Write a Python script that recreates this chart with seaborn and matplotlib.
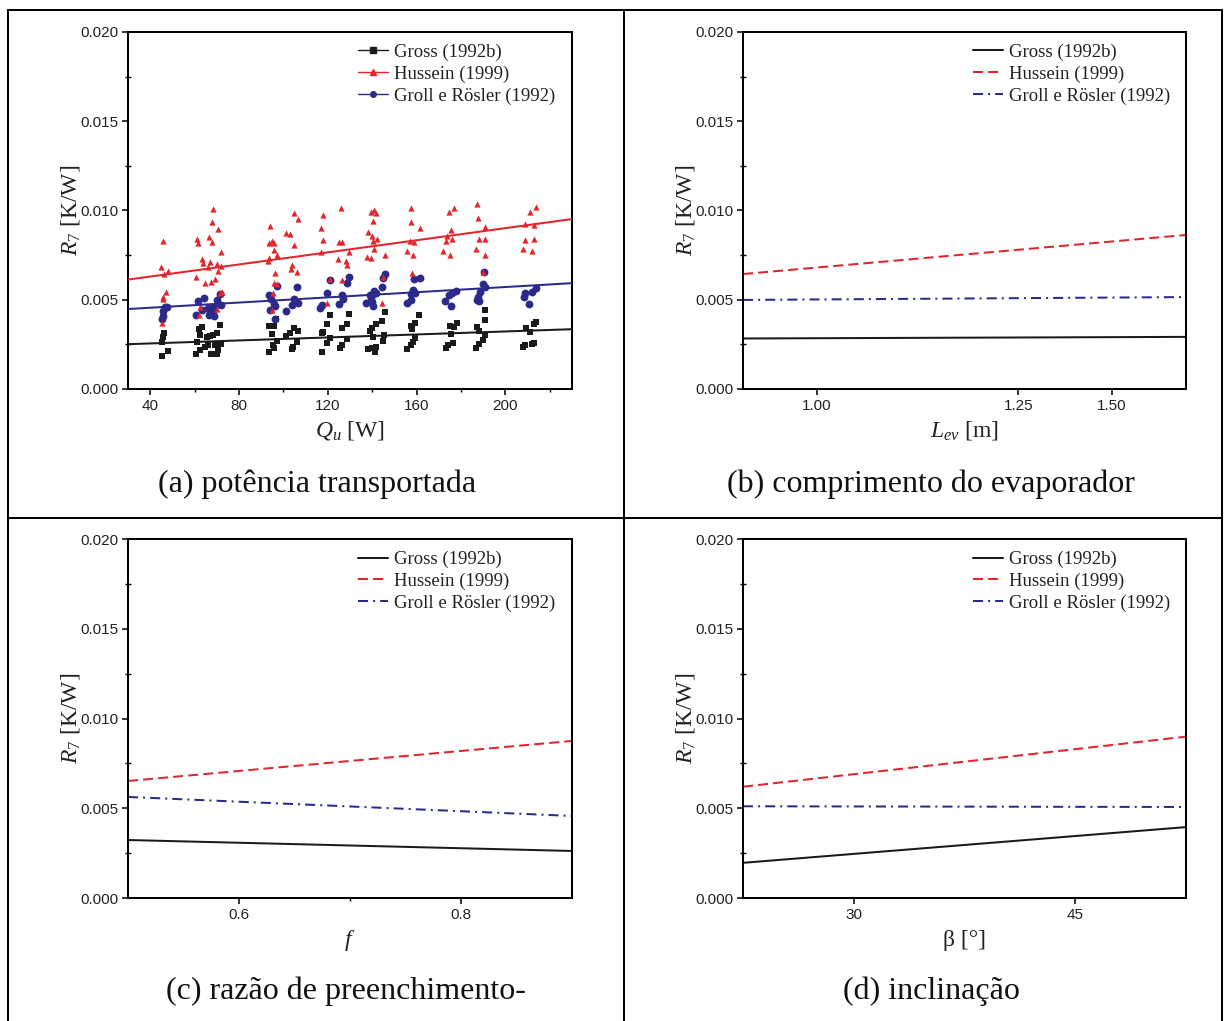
import numpy as np
import pandas as pd
import matplotlib
matplotlib.use("Agg")
import matplotlib.pyplot as plt
from matplotlib.lines import Line2D
from matplotlib.ticker import MultipleLocator, FixedLocator, FixedFormatter
import seaborn as sns

# ---------------------------------------------------------------- data
series_names = ["Gross (1992b)", "Hussein (1999)", "Groll e Rösler (1992)"]
series_colors = ["#1a1a1a", "#e3242b", "#2b2a8a"]

# (a) measured/predicted points vs transported power Q_u [W]
gross_q = [46.4, 45.9, 45.5, 47.9, 45.5, 61.8, 63.5, 62.4, 61.2, 65.7, 66.9, 68.3, 70.0, 71.4,
           66.2, 69.2, 71.9, 62.4, 60.6, 67.2, 70.4, 70.2, 64.7, 93.7, 95.8, 94.7, 95.2, 95.8,
           93.7, 97.0, 96.5, 101.2, 103.0, 104.8, 106.7, 106.3, 103.9, 104.5, 121.0, 119.5,
           117.2, 118.0, 121.0, 119.5, 117.2, 126.2, 128.5, 128.5, 126.4, 125.5, 129.4, 145.9,
           144.4, 141.5, 139.9, 139.0, 140.2, 145.5, 144.8, 141.5, 139.9, 138.1, 141.1, 161.3,
           159.3, 157.6, 157.8, 159.1, 158.5, 157.6, 155.5, 178.0, 176.7, 174.9, 175.5, 176.4,
           174.3, 173.1, 191.0, 191.0, 187.4, 188.3, 191.0, 189.8, 188.3, 186.6, 213.9, 212.8,
           209.1, 210.9, 212.8, 211.8, 208.8, 208.1]
gross_r = [0.00312, 0.00293, 0.00261, 0.00215, 0.00185, 0.00338, 0.00349, 0.00303, 0.00265,
           0.00293, 0.00297, 0.00303, 0.00312, 0.00357, 0.00246, 0.00246, 0.00250, 0.00218,
           0.00194, 0.00196, 0.00218, 0.00196, 0.00237, 0.00353, 0.00353, 0.00308, 0.00245,
           0.00228, 0.00209, 0.00267, 0.00390, 0.00297, 0.00312, 0.00340, 0.00325, 0.00265,
           0.00222, 0.00237, 0.00415, 0.00363, 0.00316, 0.00321, 0.00284, 0.00256, 0.00209,
           0.00340, 0.00362, 0.00278, 0.00246, 0.00228, 0.00420, 0.00429, 0.00383, 0.00364,
           0.00342, 0.00323, 0.00293, 0.00303, 0.00269, 0.00233, 0.00229, 0.00222, 0.00209,
           0.00415, 0.00368, 0.00353, 0.00336, 0.00284, 0.00265, 0.00246, 0.00222, 0.00372,
           0.00349, 0.00353, 0.00308, 0.00256, 0.00246, 0.00228, 0.00443, 0.00385, 0.00345,
           0.00325, 0.00303, 0.00275, 0.00250, 0.00228, 0.00377, 0.00362, 0.00340, 0.00317,
           0.00260, 0.00254, 0.00245, 0.00237]

hussein_q = [45.9, 45.0, 47.9, 46.4, 47.1, 45.8, 45.9, 45.3, 61.2, 61.7, 68.1, 67.8, 70.4, 66.6,
             67.7, 71.9, 63.5, 63.9, 67.1, 65.9, 69.9, 71.7, 70.4, 60.6, 64.7, 67.2, 69.0, 71.4,
             72.2, 70.2, 62.4, 62.0, 94.0, 93.4, 94.7, 95.6, 95.9, 97.0, 93.4, 93.2, 96.4, 95.6,
             97.0, 95.2, 95.0, 104.9, 106.7, 101.2, 103.1, 104.8, 103.7, 103.6, 106.3, 117.7,
             116.9, 118.0, 116.8, 125.8, 125.2, 126.5, 128.2, 128.5, 124.6, 121.2, 126.2, 119.5,
             129.7, 139.5, 140.7, 141.5, 140.4, 138.0, 140.1, 142.0, 140.2, 140.7, 137.5, 139.3,
             145.7, 145.0, 144.3, 157.3, 157.5, 161.4, 157.0, 158.8, 155.5, 158.6, 158.1, 174.6,
             177.0, 175.7, 173.5, 173.2, 175.8, 172.1, 175.2, 187.4, 187.8, 191.0, 188.3, 190.8,
             186.7, 190.8, 190.1, 210.9, 213.6, 208.8, 212.7, 208.9, 212.8, 207.9, 211.8]
hussein_r = [0.00829, 0.00683, 0.00661, 0.00642, 0.00542, 0.00514, 0.00502, 0.00372, 0.00838,
             0.00816, 0.01007, 0.00934, 0.00894, 0.00853, 0.00825, 0.00768, 0.00728, 0.00708,
             0.00711, 0.00685, 0.00702, 0.00689, 0.00663, 0.00626, 0.00596, 0.00598, 0.00614,
             0.00536, 0.00542, 0.00446, 0.00461, 0.00415, 0.00913, 0.00820, 0.00829, 0.00816,
             0.00777, 0.00751, 0.00732, 0.00719, 0.00648, 0.00596, 0.00588, 0.00536, 0.00443,
             0.00984, 0.00951, 0.00872, 0.00866, 0.00809, 0.00695, 0.00674, 0.00657, 0.00975,
             0.00900, 0.00835, 0.00768, 0.01012, 0.00825, 0.00824, 0.00717, 0.00695, 0.00730,
             0.00614, 0.00611, 0.00480, 0.00766, 0.00993, 0.01002, 0.00988, 0.00941, 0.00878,
             0.00857, 0.00842, 0.00831, 0.00782, 0.00741, 0.00734, 0.00753, 0.00629, 0.00480,
             0.01016, 0.00934, 0.00900, 0.00831, 0.00822, 0.00771, 0.00753, 0.00648, 0.00990,
             0.01016, 0.00891, 0.00859, 0.00831, 0.00838, 0.00771, 0.00753, 0.01035, 0.00960,
             0.00909, 0.00842, 0.00838, 0.00782, 0.00753, 0.00657, 0.00993, 0.01021, 0.00922,
             0.00919, 0.00835, 0.00842, 0.00782, 0.00773]

groll_q = [46.7, 45.6, 45.9, 45.3, 47.4, 61.5, 64.2, 60.6, 63.3, 66.0, 67.1, 68.9, 68.1, 69.9,
           71.5, 71.9, 66.6, 68.9, 93.7, 94.3, 95.8, 96.4, 93.8, 96.4, 97.0, 101.0, 103.7, 104.9,
           106.7, 106.3, 117.2, 116.5, 119.5, 121.0, 126.2, 126.7, 125.0, 128.5, 129.7, 145.7,
           145.0, 144.3, 140.8, 140.5, 141.7, 138.8, 139.6, 137.3, 140.5, 140.0, 158.8, 161.5,
           158.2, 157.3, 159.3, 157.6, 155.5, 174.6, 176.1, 177.9, 173.0, 175.6, 190.1, 190.8,
           188.6, 187.5, 187.1, 188.0, 190.4, 208.8, 208.3, 210.6, 212.1, 213.6]
groll_r = [0.00458, 0.00437, 0.00409, 0.00390, 0.00461, 0.00493, 0.00508, 0.00415, 0.00443,
           0.00455, 0.00433, 0.00461, 0.00439, 0.00499, 0.00532, 0.00469, 0.00415, 0.00411,
           0.00527, 0.00502, 0.00476, 0.00465, 0.00443, 0.00392, 0.00577, 0.00439, 0.00471,
           0.00502, 0.00484, 0.00570, 0.00471, 0.00452, 0.00540, 0.00611, 0.00527, 0.00502,
           0.00476, 0.00592, 0.00629, 0.00642, 0.00620, 0.00573, 0.00551, 0.00532, 0.00540,
           0.00527, 0.00502, 0.00480, 0.00467, 0.00489, 0.00616, 0.00620, 0.00555, 0.00532,
           0.00540, 0.00499, 0.00480, 0.00527, 0.00536, 0.00549, 0.00491, 0.00465, 0.00588,
           0.00573, 0.00542, 0.00517, 0.00499, 0.00495, 0.00657, 0.00540, 0.00514, 0.00476,
           0.00545, 0.00564]

# (a) linear trends over the plotted power range
q_range = [30, 230]
trend_a = {"Gross (1992b)": [0.00251, 0.00335],
           "Hussein (1999)": [0.00613, 0.00952],
           "Groll e Rösler (1992)": [0.00448, 0.00593]}

# (b) evaporator length L_ev [m]
lev_range = [0.875, 1.625]
lines_b = {"Gross (1992b)": [0.00283, 0.00292],
           "Hussein (1999)": [0.00644, 0.00863],
           "Groll e Rösler (1992)": [0.00499, 0.00515]}

# (c) filling ratio f
f_range = [0.5, 0.9]
lines_c = {"Gross (1992b)": [0.00323, 0.00262],
           "Hussein (1999)": [0.00652, 0.00875],
           "Groll e Rösler (1992)": [0.00563, 0.00457]}

# (d) inclination beta [deg]
beta_range = [22.5, 52.5]
lines_d = {"Gross (1992b)": [0.00196, 0.00395],
           "Hussein (1999)": [0.00620, 0.00899],
           "Groll e Rösler (1992)": [0.00511, 0.00507]}

captions = ["(a) potência transportada", "(b) comprimento do evaporador",
            "(c) razão de preenchimento-", "(d) inclinação"]

# ---------------------------------------------------------------- style
sns.set_theme(style="white")
plt.rcParams["font.family"] = ["Liberation Serif", "DejaVu Serif"]
plt.rcParams["mathtext.fontset"] = "custom"
plt.rcParams["mathtext.rm"] = "Liberation Serif"
plt.rcParams["mathtext.it"] = "Liberation Serif:italic"
plt.rcParams["mathtext.bf"] = "Liberation Serif:bold"

W, H = 1225, 1021
fig = plt.figure(figsize=(W / 100, H / 100), dpi=100)
fig.patch.set_facecolor("white")

LW = 1.45          # ~2 px
TICK_FS = 11
LABEL_FS = 17
LEG_FS = 13.5
CAP_FS = 23

dash_styles = {"Gross (1992b)": "",
               "Hussein (1999)": (5, 2.5),
               "Groll e Rösler (1992)": (5, 2.5, 1, 2.5)}
palette = dict(zip(series_names, series_colors))


def make_axes(left_px, top_px, right_px, bottom_px):
    return fig.add_axes([left_px / W, 1 - bottom_px / H,
                         (right_px - left_px) / W, (bottom_px - top_px) / H])


def style_axes(ax, xlim, ylabel_text, xlabel_text):
    ax.set_facecolor("white")
    ax.set_xlim(*xlim)
    ax.set_ylim(0, 0.02)
    ax.yaxis.set_major_locator(MultipleLocator(0.005))
    ax.yaxis.set_minor_locator(MultipleLocator(0.0025))
    ax.yaxis.set_major_formatter(matplotlib.ticker.FormatStrFormatter("%.3f"))
    for sp in ax.spines.values():
        sp.set_visible(True)
        sp.set_color("black")
        sp.set_linewidth(LW)
    ax.tick_params(which="major", direction="out", length=4, width=1.1,
                   labelsize=TICK_FS, pad=3, color="black", left=True, bottom=True)
    ax.tick_params(axis="y", which="minor", direction="inout", length=4, width=1.0,
                   color="black", left=True)
    ax.tick_params(axis="x", which="minor", direction="out", length=2.5, width=1.0,
                   color="black", bottom=True)
    for lab in ax.get_xticklabels() + ax.get_yticklabels():
        lab.set_fontfamily(["Liberation Sans", "DejaVu Sans"])
        lab.set_color("#222222")
    ax.set_ylabel(ylabel_text, fontsize=LABEL_FS, color="#222222")
    ax.yaxis.set_label_coords(-0.13, 0.5)
    ax.yaxis.label.set_va("center")
    ax.set_xlabel(xlabel_text, fontsize=LABEL_FS, color="#222222")
    ax.xaxis.label.set_va("center")
    ax.xaxis.set_label_coords(0.5, -0.117)
    ax.grid(False)


def add_legend(ax, handles):
    leg = ax.legend(handles=handles, labels=series_names, loc="upper left",
                    bbox_to_anchor=(0.519, 0.967), frameon=False, fontsize=LEG_FS,
                    handlelength=1.6, handletextpad=0.3, labelspacing=0.24,
                    borderpad=0.0, borderaxespad=0.0, numpoints=1)
    for t in leg.get_texts():
        t.set_color("#222222")
    return leg


def draw_lines(ax, xr, values):
    df = pd.DataFrame({
        "x": [x for n in series_names for x in xr],
        "R": [v for n in series_names for v in values[n]],
        "serie": [n for n in series_names for _ in xr],
    })
    sns.lineplot(data=df, x="x", y="R", hue="serie", style="serie",
                 palette=palette, dashes=dash_styles, hue_order=series_names,
                 style_order=series_names, linewidth=LW, ax=ax, legend=False)


ylab = "$R_7$ [K/W]"

# ---------------------------------------------------------------- panel (a)
ax_a = make_axes(128, 32, 572, 389)
pts = pd.DataFrame({
    "Q": gross_q + hussein_q + groll_q,
    "R": gross_r + hussein_r + groll_r,
    "serie": (["Gross (1992b)"] * len(gross_q) + ["Hussein (1999)"] * len(hussein_q)
              + ["Groll e Rösler (1992)"] * len(groll_q)),
})
markers = {"Gross (1992b)": "s", "Hussein (1999)": "^", "Groll e Rösler (1992)": "o"}
sizes_pt = {"Gross (1992b)": 24, "Hussein (1999)": 20, "Groll e Rösler (1992)": 32}
for name in ["Gross (1992b)", "Groll e Rösler (1992)", "Hussein (1999)"]:
    sub = pts[pts["serie"] == name]
    sns.scatterplot(data=sub, x="Q", y="R", color=palette[name], marker=markers[name],
                    s=sizes_pt[name], linewidth=0, ax=ax_a, legend=False, zorder=3)
trend_df = pd.DataFrame({
    "Q": [q for n in series_names for q in q_range],
    "R": [v for n in series_names for v in trend_a[n]],
    "serie": [n for n in series_names for _ in q_range],
})
sns.lineplot(data=trend_df, x="Q", y="R", hue="serie", palette=palette,
             hue_order=series_names, linewidth=LW, ax=ax_a, legend=False, zorder=4)
ax_a.xaxis.set_major_locator(MultipleLocator(40))
ax_a.xaxis.set_minor_locator(MultipleLocator(20))
style_axes(ax_a, q_range, ylab, "$Q_u$ [W]")
add_legend(ax_a, [Line2D([0], [0], color=c, lw=1.0, marker=m, markersize=4)
                  for c, m in zip(series_colors, ["s", "^", "o"])])

line_handles = [Line2D([0], [0], color=series_colors[0], lw=LW),
                Line2D([0], [0], color=series_colors[1], lw=LW, dashes=(5, 2.5)),
                Line2D([0], [0], color=series_colors[2], lw=LW, dashes=(5, 2.5, 1, 2.5))]

# ---------------------------------------------------------------- panel (b)
ax_b = make_axes(743, 32, 1186, 389)
draw_lines(ax_b, lev_range, lines_b)
ax_b.xaxis.set_major_locator(FixedLocator([1.0, 1.341, 1.5]))
ax_b.xaxis.set_major_formatter(FixedFormatter(["1.00", "1.25", "1.50"]))
style_axes(ax_b, lev_range, ylab, "$L_{ev}$ [m]")
add_legend(ax_b, line_handles)

# ---------------------------------------------------------------- panel (c)
ax_c = make_axes(128, 539, 572, 898)
draw_lines(ax_c, f_range, lines_c)
ax_c.xaxis.set_major_locator(FixedLocator([0.6, 0.8]))
ax_c.xaxis.set_minor_locator(FixedLocator([0.7]))
ax_c.xaxis.set_major_formatter(FixedFormatter(["0.6", "0.8"]))
style_axes(ax_c, f_range, ylab, "$f$")
add_legend(ax_c, line_handles)

# ---------------------------------------------------------------- panel (d)
ax_d = make_axes(743, 539, 1186, 898)
draw_lines(ax_d, beta_range, lines_d)
ax_d.xaxis.set_major_locator(FixedLocator([30, 45]))
style_axes(ax_d, beta_range, ylab, "β [°]")
add_legend(ax_d, line_handles)

# ---------------------------------------------------------------- captions and frame
cap_pos = [(317, 484), (931, 484), (346, 991), (931, 991)]
for text, (cx, cy) in zip(captions, cap_pos):
    fig.text(cx / W, 1 - cy / H, text, fontsize=CAP_FS, ha="center", va="center",
             color="#111111")

frame_kw = dict(color="black", linewidth=LW, transform=fig.transFigure)
for xs, ys in [([8, 1222], [10, 10]), ([8, 8], [10, 1021]), ([1222, 1222], [10, 1021]),
               ([624, 624], [10, 1021]), ([8, 1222], [518, 518])]:
    fig.add_artist(Line2D([x / W for x in xs], [1 - y / H for y in ys], **frame_kw))

fig.savefig("out.png", dpi=100, facecolor="white")
